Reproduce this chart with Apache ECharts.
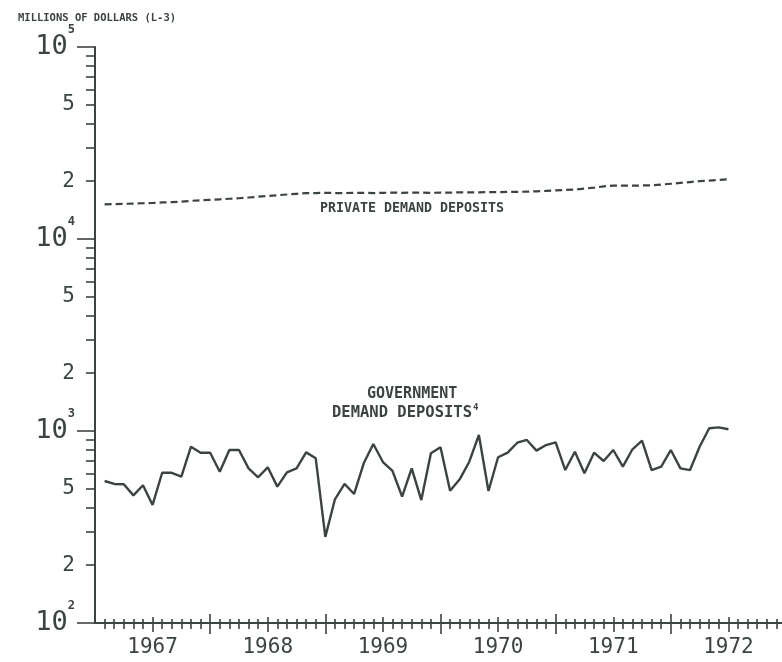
<!DOCTYPE html>
<html>
<head>
<meta charset="utf-8">
<script src="https://cdn.jsdelivr.net/npm/echarts@6/dist/echarts.min.js"></script>
<style>
html, body { margin: 0; padding: 0; background: #fff; }
#main { width: 782px; height: 662px; }
</style>
</head>
<body>
<div id="main"></div>
<script>
// year labels, centred on mid-year
var years = ['1967', '1968', '1969', '1970', '1971', '1972']

// monthly, Jan 1967 .. Jun 1972 (millions of dollars)
var govDeposits = [
  549, 530, 528, 462, 522, 412, 606, 606, 578, 828, 771, 771,
  614, 796, 796, 639, 574, 647, 513, 609, 639, 774, 721, 281,
  441, 530, 470, 679, 856, 689, 619, 455, 639, 437, 765, 823,
  489, 560, 692, 953, 487, 730, 771, 869, 898, 790, 845, 873,
  626, 780, 602, 771, 698, 796, 652, 803, 890, 626, 652, 796,
  639, 626, 828, 1033, 1045, 1021
]
var privDeposits = [
  15160, 15200, 15250, 15300, 15350, 15400, 15500, 15550, 15650, 15800, 15900, 16000,
  16100, 16200, 16300, 16450, 16600, 16750, 16900, 17050, 17200, 17350, 17350, 17400,
  17350, 17350, 17400, 17400, 17350, 17400, 17450, 17400, 17450, 17450, 17400, 17450,
  17450, 17500, 17500, 17500, 17550, 17550, 17600, 17600, 17650, 17700, 17800, 17900,
  18000, 18100, 18300, 18500, 18800, 18950, 18950, 18950, 19000, 19050, 19200, 19400,
  19600, 19800, 20000, 20150, 20300, 20450
]

// y ticks (log scale)
var decadeTicks = [100, 1000, 10000, 100000]
var minorTicks = [200, 300, 400, 500, 600, 700, 800, 900,
  2000, 3000, 4000, 5000, 6000, 7000, 8000, 9000,
  20000, 30000, 40000, 50000, 60000, 70000, 80000, 90000]
var labelTicks = [100, 200, 500, 1000, 2000, 5000, 10000, 20000, 50000, 100000]

var ink = '#3b4343'
var mono = 'DejaVu Sans Mono'

// x = months since start of 1967, each point sits at month end
var monthTicks = [], halfTicks = [], yearTicks = []
for (var m = 1; m <= 72; m++) {
  if (m % 12 == 0) yearTicks.push(m)
  else if (m % 6 == 0) halfTicks.push(m)
  else monthTicks.push(m)
}
var yearPos = years.map(function (y, i) { return 6 + 12 * i })

var govData = govDeposits.map(function (v, i) { return [i + 1, v] })
var privData = privDeposits.map(function (v, i) { return [i + 1, v] })

// one axis per tick size, ticks cross the line so each size gets an inside and outside copy
function xTickAxis(vals, len, inside, main) {
  return {
    type: 'value', min: 0, max: 72, position: 'bottom',
    axisLine: { show: !!main, onZero: false, lineStyle: { color: ink, width: 2 } },
    axisTick: { show: true, inside: inside, length: len, customValues: vals, lineStyle: { color: ink, width: 1.6 } },
    axisLabel: main ? {
      show: true, customValues: yearPos, margin: 14,
      color: ink, fontFamily: mono, fontSize: 21,
      formatter: function (v) { return years[Math.round((v - 6) / 12)] }
    } : { show: false },
    splitLine: { show: false }
  }
}

function yTickAxis(vals, len, main) {
  return {
    type: 'log', logBase: 10, min: 100, max: 100000, position: 'left',
    axisLine: { show: !!main, onZero: false, lineStyle: { color: ink, width: 2 } },
    axisTick: { show: true, length: len, customValues: vals, lineStyle: { color: ink, width: 1.6 } },
    axisLabel: main ? {
      show: true, customValues: labelTicks, margin: 20, color: ink, fontFamily: mono,
      formatter: function (v) {
        var e = Math.floor(Math.log10(v) + 1e-9)
        var d = Math.round(v / Math.pow(10, e))
        if (d == 1) return '{b|10}{s|' + e + '}'
        return '{n|' + d + '}'
      },
      rich: {
        b: { fontFamily: mono, fontSize: 27, color: ink, padding: [10, 0, 10, 0] },
        s: { fontFamily: mono, fontSize: 12, fontWeight: 'bold', color: ink, verticalAlign: 'top' },
        n: { fontFamily: mono, fontSize: 21, lineHeight: 21, color: ink }
      }
    } : { show: false },
    splitLine: { show: false },
    minorTick: { show: false }
  }
}

var chart = echarts.init(document.getElementById('main'))
chart.setOption({
  animation: false,
  backgroundColor: '#fff',
  title: {
    text: 'MILLIONS OF DOLLARS (L-3)',
    left: 13, top: 8,
    textStyle: { color: ink, fontFamily: mono, fontSize: 10.5, fontWeight: 'bold' }
  },
  grid: { left: 95, top: 47, width: 691, height: 576, containLabel: false, outerBoundsMode: 'none' },
  xAxis: [
    xTickAxis(monthTicks, 6, false, true),
    xTickAxis(monthTicks, 4, true),
    xTickAxis(halfTicks, 9, false),
    xTickAxis(halfTicks, 6, true),
    xTickAxis(yearTicks, 11, false),
    xTickAxis(yearTicks, 9, true)
  ],
  yAxis: [
    yTickAxis(decadeTicks, 18, true),
    yTickAxis(minorTicks, 9)
  ],
  graphic: [
    { type: 'text', left: 320, top: 202, style: { text: 'PRIVATE DEMAND DEPOSITS', fill: ink, font: 'bold 13.3px "DejaVu Sans Mono"' } },
    { type: 'text', left: 367, top: 387, style: { text: 'GOVERNMENT', fill: ink, font: 'bold 15px "DejaVu Sans Mono"' } },
    { type: 'text', left: 332, top: 405, style: { text: 'DEMAND DEPOSITS', fill: ink, font: 'bold 15.5px "DejaVu Sans Mono"' } },
    { type: 'text', left: 473, top: 403, style: { text: '4', fill: ink, font: 'bold 9px "DejaVu Sans Mono"' } }
  ],
  series: [
    {
      name: 'Private demand deposits', type: 'line', data: privData,
      symbol: 'none', xAxisIndex: 0, yAxisIndex: 0,
      lineStyle: { color: ink, width: 2.2, type: [7, 4] }
    },
    {
      name: 'Government demand deposits', type: 'line', data: govData,
      symbol: 'none', xAxisIndex: 0, yAxisIndex: 0,
      lineStyle: { color: ink, width: 2.4 }
    }
  ]
})
</script>
</body>
</html>
